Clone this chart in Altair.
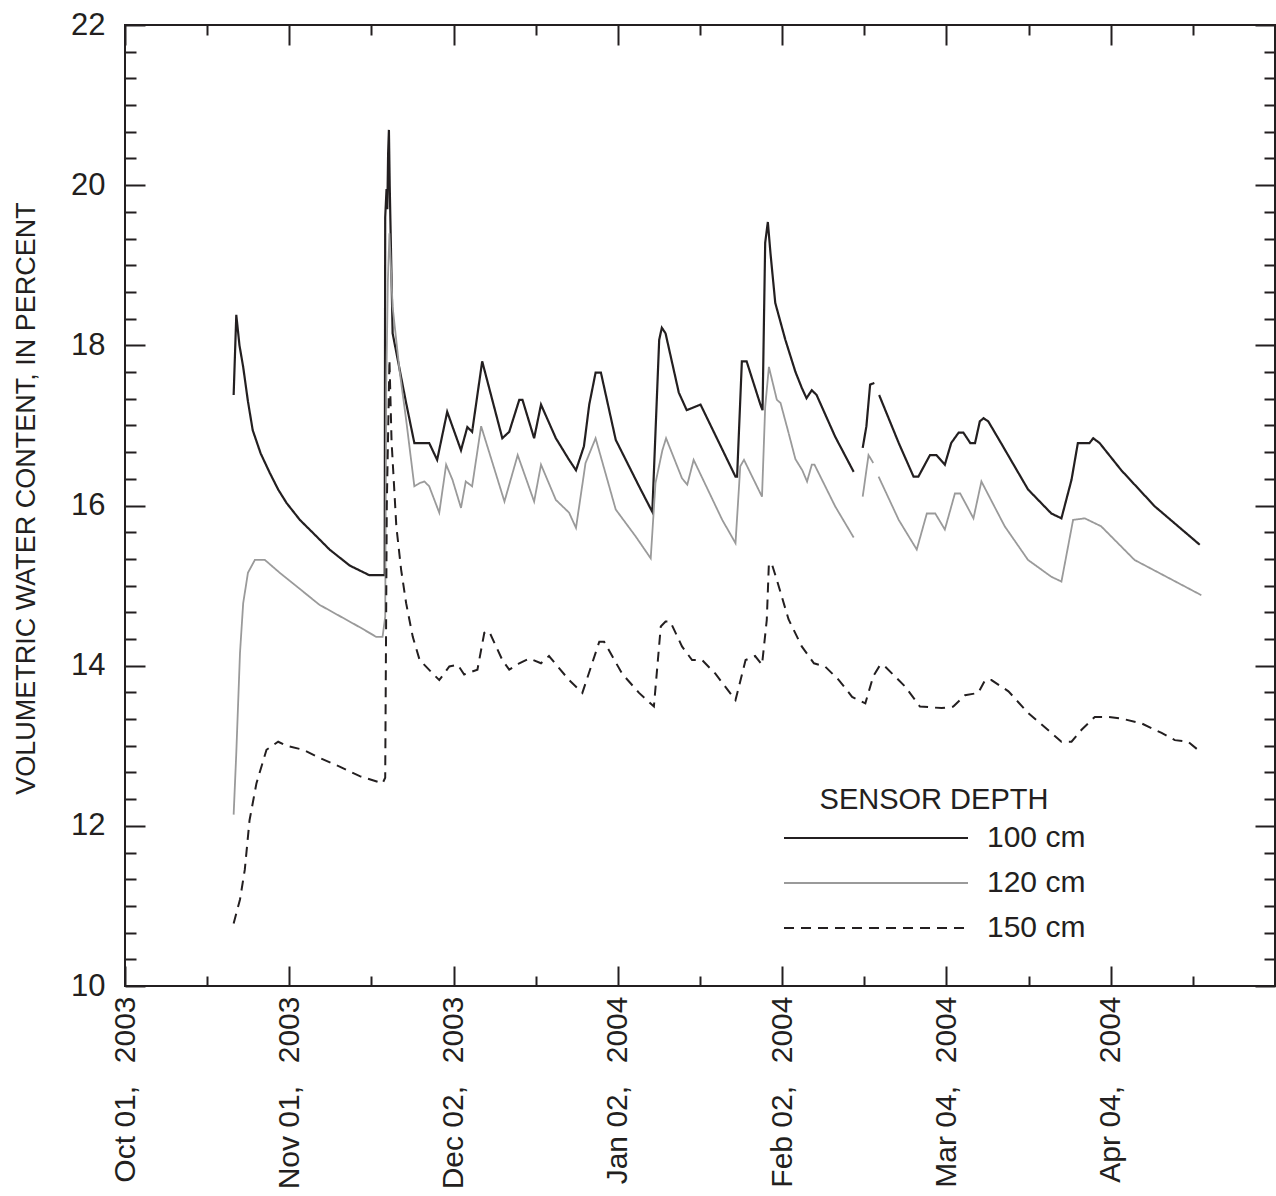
import altair as alt
import pandas as pd

GAP = None

# days since Oct 01, 2003 and volumetric water content (%)
D100_DAYS = [20.5, 21.0, 21.6, 22.3, 23.2, 24.1, 25.6, 27.3, 28.9, 30.5, 33.0, 36.2, 38.6, 42.4, 46.1,
             49.0, 49.1, 49.35, 49.5, 49.65, 49.8, 49.95, 50.5,
             53.05, 54.6, 57.4, 58.9, 60.8, 63.4, 64.6, 65.5, 67.4, 71.2, 72.5,
             74.4, 75.0, 77.2, 78.5, 81.3, 83.8, 85.1, 86.6, 87.6, 88.8, 89.8,
             92.6, 97.0, 99.5, 100.8, 101.3, 102.0, 104.5, 106.0, 108.6, 115.2,
             115.5, 116.4, 117.3, 119.9, 120.3, 120.8, 121.3, 121.8, 122.7,
             124.6, 126.5, 127.7, 128.6, 129.6, 130.5, 134.0, 137.5, GAP,
             139.2, 139.9, 140.6, 141.4, GAP,
             142.3, 146.0, 148.8, 149.7, 151.9, 153.1, 154.7, 155.9, 157.3,
             158.2, 159.5, 160.4, 161.3, 162.0, 162.9, 165.3, 170.4, 174.8,
             176.7, 178.6, 179.8, 182.0, 182.7, 183.9, 188.0, 194.3, 202.8]
D100_VALS = [17.38, 18.38, 18.0, 17.73, 17.3, 16.94, 16.65, 16.41, 16.2, 16.03, 15.82, 15.61, 15.45, 15.25, 15.13,
             15.13, 19.6, 19.95, 19.7, 20.4, 20.69, 20.0, 18.15,
             17.28, 16.78, 16.78, 16.57, 17.17, 16.69, 16.98, 16.92, 17.80, 16.84, 16.92,
             17.32, 17.32, 16.84, 17.26, 16.84, 16.57, 16.44, 16.74, 17.26, 17.66, 17.66,
             16.82, 16.24, 15.92, 18.07, 18.22, 18.15, 17.41, 17.19, 17.26, 16.36,
             16.36, 17.80, 17.80, 17.26, 17.19, 19.28, 19.54, 19.15, 18.53,
             18.07, 17.67, 17.47, 17.34, 17.44, 17.38, 16.86, 16.42, GAP,
             16.72, 16.99, 17.51, 17.53, GAP,
             17.38, 16.78, 16.36, 16.36, 16.63, 16.63, 16.51, 16.78, 16.91,
             16.91, 16.78, 16.78, 17.05, 17.09, 17.05, 16.78, 16.20, 15.90,
             15.84, 16.32, 16.78, 16.78, 16.84, 16.78, 16.44, 15.99, 15.51]

D120_DAYS = [20.5, 21.0, 21.7, 22.3, 23.2, 24.5, 26.4, 29.2, 36.7, 44.3, 47.4, 48.6,
             49.1, 49.3, 49.6, 49.9, 50.5, 51.8, 53.05, 54.6, 55.6, 56.5, 57.4,
             59.3, 60.6, 61.8, 63.4, 64.3, 65.5, 67.2, 71.6, 74.1, 77.2, 78.5,
             81.3, 83.8, 85.1, 86.9, 88.8, 92.6, 96.4, 99.2, 100.1, 101.4, 102.1,
             105.1, 106.1, 107.3, 112.7, 115.2, 116.1, 116.8, 120.2, 120.8, 121.5,
             123.0, 123.7, 125.2, 126.5, 127.8, 128.7, 129.6, 130.1, 134.0, 137.5, GAP,
             139.2, 140.3, 141.2, GAP,
             142.2, 146.0, 149.4, 151.3, 152.9, 154.7, 156.6, 157.6, 160.1, 161.6,
             166.0, 170.4, 174.8, 176.7, 178.9, 181.1, 184.2, 190.5, 203.1]
D120_VALS = [12.14, 12.91, 14.16, 14.78, 15.16, 15.32, 15.32, 15.16, 14.76, 14.48, 14.36, 14.36,
             14.61, 17.5, 18.8, 19.40, 18.48, 17.69, 17.07, 16.24, 16.28, 16.30, 16.24,
             15.91, 16.51, 16.32, 15.97, 16.30, 16.24, 16.99, 16.05, 16.63, 16.05, 16.51,
             16.07, 15.91, 15.72, 16.53, 16.84, 15.95, 15.61, 15.34, 16.28, 16.69, 16.84,
             16.34, 16.26, 16.57, 15.82, 15.53, 16.49, 16.57, 16.11, 17.23, 17.73,
             17.32, 17.28, 16.91, 16.58, 16.44, 16.30, 16.51, 16.51, 15.99, 15.60, GAP,
             16.11, 16.63, 16.53, GAP,
             16.36, 15.82, 15.45, 15.90, 15.90, 15.70, 16.15, 16.15, 15.84, 16.30,
             15.74, 15.32, 15.11, 15.05, 15.82, 15.84, 15.74, 15.32, 14.88]

D150_DAYS = [20.5, 21.7, 22.6, 23.5, 24.8, 26.7, 28.9, 30.5, 33.6, 36.7, 40.5, 44.3, 48.6,
             49.1, 49.4, 49.9, 50.3, 51.2, 52.1, 53.05, 54.3, 55.6, 58.1, 59.3, 61.2,
             62.8, 64.0, 66.5, 67.8, 68.7, 71.2, 72.5, 74.4, 76.3, 78.5, 80.0, 83.8,
             86.3, 89.5, 90.4, 93.8, 97.0, 99.8, 101.1, 102.0, 102.9, 105.1, 107.0,
             108.9, 111.4, 115.2, 117.1, 118.9, 120.2, 121.1, 121.5, 122.1, 123.0,
             125.2, 127.7, 130.0, 132.1, 134.7, 137.2, 139.7, 141.2, 142.5, 143.4,
             147.2, 150.0, 154.1, 156.3, 158.5, 161.0, 162.3, 163.5, 166.7, 170.4,
             174.8, 176.7, 178.6, 180.5, 183.0, 185.5, 188.0, 191.8, 195.6, 198.1,
             200.6, 202.8]
D150_VALS = [10.78, 11.08, 11.45, 12.07, 12.53, 12.95, 13.05, 13.00, 12.95, 12.85, 12.74, 12.62, 12.53,
             12.6, 16.0, 17.82, 16.8, 15.74, 15.20, 14.78, 14.36, 14.07, 13.90, 13.82, 13.99,
             14.01, 13.89, 13.95, 14.41, 14.43, 14.07, 13.95, 14.03, 14.09, 14.03, 14.12, 13.82,
             13.66, 14.30, 14.30, 13.90, 13.66, 13.49, 14.49, 14.55, 14.55, 14.24, 14.07,
             14.07, 13.90, 13.57, 14.07, 14.12, 14.01, 14.57, 15.28, 15.26, 15.07,
             14.58, 14.24, 14.03, 13.99, 13.82, 13.61, 13.53, 13.87, 14.01, 13.99,
             13.74, 13.49, 13.47, 13.49, 13.63, 13.66, 13.82, 13.82, 13.68, 13.41,
             13.16, 13.05, 13.05, 13.20, 13.36, 13.36, 13.34, 13.28, 13.16, 13.07,
             13.05, 12.93]

DEPTHS = ["100 cm", "120 cm", "150 cm"]
COLORS = ["#231f20", "#9a9a9a", "#231f20"]
DASHES = [[1, 0], [1, 0], [10, 7]]
X_MAJOR = [0, 31, 62, 93, 124, 155, 186]
X_TICKS = [15.5 * k for k in range(15)]
Y_MAJOR = [10, 12, 14, 16, 18, 20, 22]
Y_TICKS = [10 + k / 3 for k in range(37)]

INK = "#231f20"
FONT = "Liberation Sans"
W, H = 1150, 961


def build(depth, days, vals):
    rows, seg = [], 0
    for d, v in zip(days, vals):
        if d is None:
            seg += 1
            continue
        rows.append({"day": d, "value": v, "depth": depth, "seg": f"{depth}-{seg}"})
    return pd.DataFrame(rows)


df = pd.concat([build("100 cm", D100_DAYS, D100_VALS),
                build("120 cm", D120_DAYS, D120_VALS),
                build("150 cm", D150_DAYS, D150_VALS)], ignore_index=True)

xscale = alt.Scale(domain=[0, 217], nice=False, zero=False)
yscale = alt.Scale(domain=[10, 22], nice=False, zero=False)

leg = alt.Legend(title="SENSOR DEPTH", orient="none", legendX=658, legendY=761,
                 direction="vertical", symbolType="stroke", symbolSize=33856,
                 symbolStrokeWidth=2, clipHeight=30, rowPadding=15, labelOffset=18,
                 labelFontSize=30, labelFont=FONT, labelColor=INK, labelLimit=400,
                 titleFontSize=29, titleFontWeight="normal", titleFont=FONT,
                 titleColor=INK, titleAnchor="middle", titlePadding=8, padding=0,
                 titleLimit=600, symbolOffset=0)

XMAJ = "abs(datum.value/31 - round(datum.value/31)) < 0.01"
YMAJ = "abs(datum.value/2 - round(datum.value/2)) < 0.01"
xts = {"condition": {"test": XMAJ, "value": 20}, "value": 10}
yts = {"condition": {"test": YMAJ, "value": 20}, "value": 11}

x_label_axis = alt.Axis(orient="bottom", values=X_MAJOR, ticks=False, tickSize=0, domain=False,
                        grid=False, title=None, labelAngle=270, labelAlign="right",
                        labelBaseline="middle", labelPadding=10, labelFlush=False,
                        labelOverlap=False, labelFontSize=30, labelFont=FONT, labelColor=INK,
                        labelLimit=600,
                        labelExpr="timeFormat(datetime(2003, 9, 1 + datum.value), '%b %d,') + '\u00a0\u00a0\u2009' + timeFormat(datetime(2003, 9, 1 + datum.value), '%Y')")
y_label_axis = alt.Axis(orient="left", values=Y_MAJOR, ticks=False, tickSize=0, domain=False,
                        grid=False, labelPadding=20, labelFontSize=31, labelFont=FONT,
                        labelColor=INK, labelFlush=False, labelOverlap=False,
                        title="VOLUMETRIC WATER CONTENT, IN PERCENT", titleFontSize=27,
                        titleFontWeight="normal", titleFont=FONT, titleColor=INK,
                        titleX=-91, titleY=473, titleAngle=270, titleAlign="center",
                        titleBaseline="alphabetic", titleLimit=1000)


def tick_axis(orient, offset, values, ts):
    return alt.Axis(orient=orient, offset=offset, values=values, labels=False, domain=False,
                    grid=False, title=None, tickSize=ts, tickWidth=2, tickColor=INK)


def layer(depth, width, xaxis, yaxis):
    return alt.Chart(df[df.depth == depth]).mark_line(strokeWidth=width).encode(
        x=alt.X("day:Q", scale=xscale, axis=xaxis),
        y=alt.Y("value:Q", scale=yscale, axis=yaxis),
        color=alt.Color("depth:N", scale=alt.Scale(domain=DEPTHS, range=COLORS), legend=leg),
        strokeDash=alt.StrokeDash("depth:N", scale=alt.Scale(domain=DEPTHS, range=DASHES), legend=leg),
        detail="seg:N",
    )


l1 = layer("150 cm", 2, tick_axis("bottom", -H, X_TICKS, xts), tick_axis("left", -W, Y_TICKS, yts))
l2 = layer("120 cm", 1.8, tick_axis("top", -H, X_TICKS, xts), tick_axis("right", -W, Y_TICKS, yts))
l3 = layer("100 cm", 2.2, x_label_axis, y_label_axis)

chart = alt.layer(l3, l2, l1).resolve_axis(x="independent", y="independent").properties(
    width=W, height=H,
    autosize=alt.AutoSizeParams(type="none"),
    padding={"left": 125, "top": 25, "right": 1, "bottom": 210},
).configure_view(stroke=INK, strokeWidth=2)

chart.save("out.html", embed_options={"renderer": "svg", "actions": False})
